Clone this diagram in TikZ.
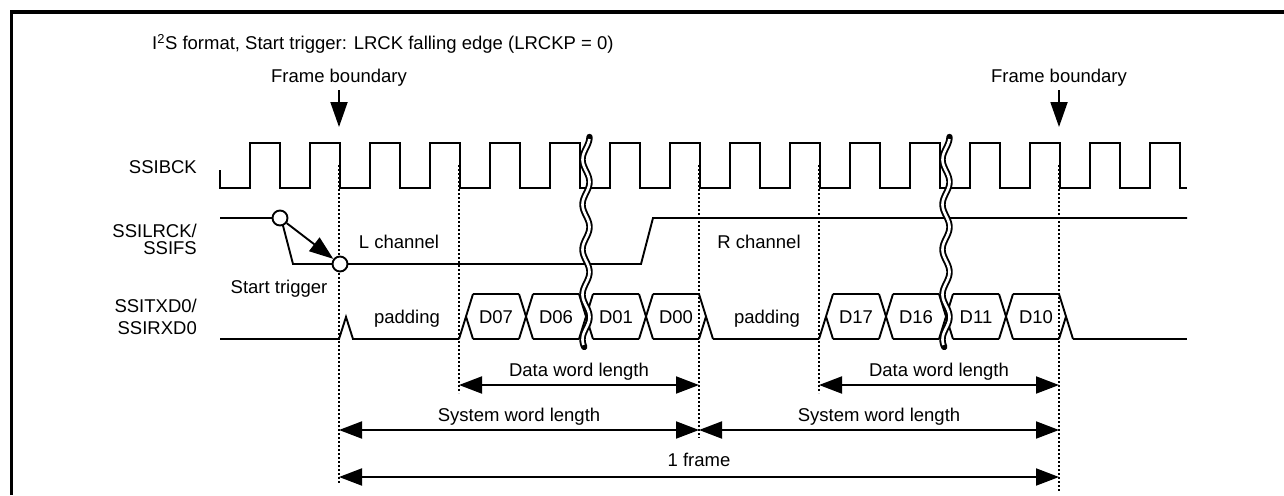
\documentclass[tikz,border=0pt]{standalone}
\usepackage{fontspec}
\setmainfont{Liberation Sans}
\usetikzlibrary{arrows.meta}
\begin{document}
\begin{tikzpicture}[x=1pt,y=-1pt,
  sig/.style={line width=1.9pt, line join=miter, line cap=butt},
  dotl/.style={line width=2.8pt, dash pattern=on 2.4pt off 1.6pt},
  dim/.style={line width=1.9pt, {Triangle[length=23pt,width=17pt]}-{Triangle[length=23pt,width=17pt]}},
  onearrow/.style={line width=1.9pt, -{Triangle[length=25pt,width=17pt]}},
  lbl/.style={font=\fontsize{18.5}{21}\selectfont, inner sep=0pt},
  trig/.style={circle, draw, fill=white, line width=1.9pt, minimum size=15pt, inner sep=0pt},
]
\useasboundingbox (0,0) rectangle (1284,495);
% frame
\draw[line width=3.5pt, line join=miter] (11.5,495) -- (11.5,12) -- (1284,12);

% title
\node[lbl, anchor=base west] (title) at (152,50) {I\textsuperscript{2}S format, Start trigger: LRCK falling edge (LRCKP = 0)};

% signal names
\node[lbl, anchor=base east] (nbck) at (197,173) {SSIBCK};
\node[lbl, anchor=base east] (nlr1) at (197,237) {SSILRCK/};
\node[lbl, anchor=base east] (nlr2) at (197,254.5) {SSIFS};
\node[lbl, anchor=base east] (ntx1) at (197,312) {SSITXD0/};
\node[lbl, anchor=base east] (ntx2) at (197,334) {SSIRXD0};

% frame boundary labels and arrows
\node[lbl, anchor=base] (fbl1) at (339,82) {Frame boundary};
\node[lbl, anchor=base] (fbl2) at (1059,82) {Frame boundary};
\coordinate (fa1s) at (339,90); \coordinate (fa1e) at (339,127);
\coordinate (fa2s) at (1059,90); \coordinate (fa2e) at (1059,127);
\draw[onearrow] (fa1s) -- (fa1e);
\draw[onearrow] (fa2s) -- (fa2e);

% dotted boundary lines
\coordinate (d1t) at (339,165); \coordinate (d1b) at (339,484);
\coordinate (d2t) at (459,165); \coordinate (d2b) at (459,393);
\coordinate (d3t) at (699,165); \coordinate (d3b) at (699,438);
\coordinate (d4t) at (819,165); \coordinate (d4b) at (819,393);
\coordinate (d5t) at (1059,165); \coordinate (d5b) at (1059,492);
\draw[dotl] (d1t) -- (d1b);
\draw[dotl] (d2t) -- (d2b);
\draw[dotl] (d3t) -- (d3b);
\draw[dotl] (d4t) -- (d4b);
\draw[dotl] (d5t) -- (d5b);

% SSIBCK
\draw[sig] (220,170) -- (220,188)
  foreach \i in {0,...,15} { -- ({250+60*\i},188) -- ({250+60*\i},143) -- ({280+60*\i},143) -- ({280+60*\i},188) }
  -- (1187,188);

% SSILRCK
\draw[sig] (220,218) -- (281,218) -- (293,264) -- (641,264) -- (653,218) -- (1187,218);
\node[lbl, anchor=base] (lch) at (399,248) {L channel};
\node[lbl, anchor=base] (rch) at (759,248) {R channel};
\node[lbl, anchor=base] (strig) at (279,293) {Start trigger};

% data line
\draw[sig] (220,339) -- (339,339) -- (346,317) -- (353,339) -- (459,339);
\draw[sig] (713,339) -- (819,339);
\draw[sig] (1073,339) -- (1187,339);
\foreach \a/\b in {473/519, 533/579, 593/639, 653/699, 833/879, 893/939, 953/999, 1013/1059} {
  \draw[sig] (\a,294) -- (\b,294);
  \draw[sig] (\a,339) -- (\b,339);
}
\foreach \x in {519,579,639,879,939,999} {
  \draw[sig] (\x,294) -- ({\x+14},339);
  \draw[sig] (\x,339) -- ({\x+14},294);
}
\foreach \x in {459,819} {
  \draw[sig] (\x,339) -- ({\x+14},294);
  \draw[sig] ({\x+7},316.5) -- ({\x+14},339);
}
\foreach \x in {699,1059} {
  \draw[sig] (\x,294) -- ({\x+14},339);
  \draw[sig] (\x,339) -- ({\x+7},316.5);
}
\node[lbl, anchor=base] (pad1) at (407,323) {padding};
\node[lbl, anchor=base] (pad2) at (767,323) {padding};
\node[lbl, anchor=base] (d07) at (496,323) {D07};
\node[lbl, anchor=base] (d06) at (556,323) {D06};
\node[lbl, anchor=base] (d01) at (616,323) {D01};
\node[lbl, anchor=base] (d00) at (676,323) {D00};
\node[lbl, anchor=base] (d17) at (856,323) {D17};
\node[lbl, anchor=base] (d16) at (916,323) {D16};
\node[lbl, anchor=base] (d11) at (976,323) {D11};
\node[lbl, anchor=base] (d10) at (1036,323) {D10};

% break marks
\foreach \cx in {586,946} {
  \draw[line width=6.4pt, line cap=round] plot[domain=137:347, samples=120, smooth, variable=\t] ({\cx+3.5*sin(8*(\t-137)+90)},{\t});
  \draw[white, line width=2.6pt, line cap=butt] plot[domain=139:345, samples=120, smooth, variable=\t] ({\cx+3.5*sin(8*(\t-137)+90)},{\t});
}

% start trigger circles and arrow
\node[trig] (c1) at (280,218) {};
\node[trig] (c2) at (340,264) {};
\draw[line width=1.9pt, -{Triangle[length=24pt,width=17pt]}] (c1) -- (c2);

% dimension arrows
\coordinate (dw1a) at (459,385); \coordinate (dw1b) at (699,385);
\coordinate (dw2a) at (819,385); \coordinate (dw2b) at (1059,385);
\coordinate (sw1a) at (339,430); \coordinate (sw1b) at (699,430);
\coordinate (sw2a) at (699,430); \coordinate (sw2b) at (1059,430);
\coordinate (fra) at (339,477); \coordinate (frb) at (1059,477);
\draw[dim] (dw1a) -- (dw1b);
\draw[dim] (dw2a) -- (dw2b);
\draw[dim] (sw1a) -- (sw1b);
\draw[dim] (sw2a) -- (sw2b);
\draw[dim] (fra) -- (frb);
\node[lbl, anchor=base] (tdw1) at (579,376) {Data word length};
\node[lbl, anchor=base] (tdw2) at (939,376) {Data word length};
\node[lbl, anchor=base] (tsw1) at (519,421) {System word length};
\node[lbl, anchor=base] (tsw2) at (879,421) {System word length};
\node[lbl, anchor=base] (tfr) at (699,466) {1 frame};
\end{tikzpicture}
\end{document}
